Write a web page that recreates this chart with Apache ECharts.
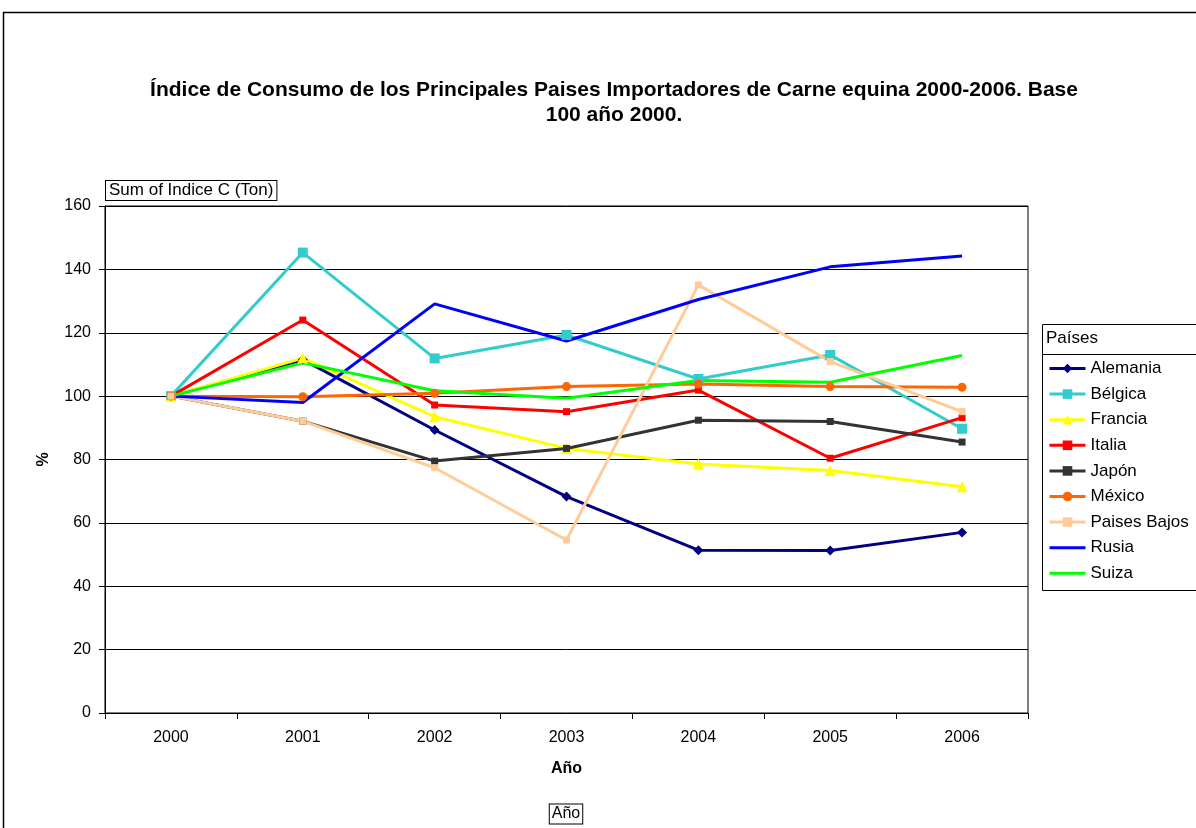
<!DOCTYPE html>
<html>
<head>
<meta charset="utf-8">
<script src="https://cdn.jsdelivr.net/npm/echarts@6/dist/echarts.min.js"></script>
<style>
  html, body { margin: 0; padding: 0; background: #fff; }
  #chart { width: 1196px; height: 828px; }
</style>
</head>
<body>
<div id="chart"></div>
<script>
// Data
const years = ['2000', '2001', '2002', '2003', '2004', '2005', '2006'];
const alemania = [100, 111.5, 89.3, 68.3, 51.4, 51.3, 57.0];
const belgica = [100, 145.3, 111.9, 119.3, 105.4, 113.0, 89.7];
const francia = [100, 112.0, 93.5, 83.5, 78.6, 76.5, 71.4];
const italia = [100, 124.0, 97.2, 95.1, 101.9, 80.4, 93.2];
const japon = [100, 92.1, 79.5, 83.5, 92.4, 92.0, 85.5];
const mexico = [100, 99.8, 100.9, 103.0, 103.8, 103.0, 102.8];
const paisesBajos = [100, 92.1, 77.4, 54.6, 135.1, 110.9, 95.1];
const rusia = [100, 98.0, 129.1, 117.4, 130.5, 140.8, 144.2];
const suiza = [100, 110.5, 101.7, 99.3, 104.9, 104.4, 112.8];

const chart = echarts.init(document.getElementById('chart'));
const font = '"Liberation Sans", Arial, sans-serif';
const lineOnlyIcon = 'path://M0,0 L36,0 L36,3 L0,3 Z';

// helper for one line series
const mk = (name, data, color, symbol, size) => ({
  name,
  type: 'line',
  data,
  symbol,
  symbolSize: size,
  showSymbol: symbol !== 'none',
  lineStyle: { color, width: 3 },
  itemStyle: { color },
  emphasis: { disabled: true },
  animation: false
});

chart.setOption({
  animation: false,
  textStyle: { fontFamily: font },
  title: {
    text: 'Índice de Consumo de los Principales Paises Importadores de Carne equina 2000-2006. Base\n100 año 2000.',
    left: 609,
    top: 73,
    textAlign: 'center',
    textStyle: { fontSize: 21, fontWeight: 'bold', color: '#000', lineHeight: 25, fontFamily: font, align: 'center' }
  },
  legend: {
    orient: 'vertical',
    left: 1048,
    top: 360,
    padding: 0,
    itemWidth: 36,
    itemHeight: 12,
    itemGap: 8.6,
    lineStyle: { width: 3 },
    textStyle: { fontSize: 17, color: '#000', fontFamily: font },
    selectedMode: false,
    data: [
      'Alemania', 'Bélgica', 'Francia', 'Italia', 'Japón', 'México', 'Paises Bajos',
      { name: 'Rusia', icon: lineOnlyIcon },
      { name: 'Suiza', icon: lineOnlyIcon }
    ]
  },
  grid: { left: 105, top: 206, width: 923, height: 507, show: true, borderColor: '#000', borderWidth: 1 },
  xAxis: {
    type: 'category',
    data: years,
    name: 'Año',
    nameLocation: 'middle',
    nameGap: 48,
    nameTextStyle: { fontSize: 16, fontWeight: 'bold', color: '#000' },
    axisLine: { lineStyle: { color: '#000', width: 1 } },
    axisTick: { show: true, length: 6, lineStyle: { color: '#000' } },
    axisLabel: { fontSize: 16, color: '#000', margin: 17 }
  },
  yAxis: {
    type: 'value',
    min: 0,
    max: 160,
    interval: 20,
    name: '%',
    nameLocation: 'middle',
    nameRotate: 90,
    nameGap: 61,
    nameTextStyle: { fontSize: 16, fontWeight: 'bold', color: '#000', verticalAlign: 'middle' },
    axisLine: { show: true, lineStyle: { color: '#000', width: 1 } },
    axisTick: { show: true, length: 6, lineStyle: { color: '#000' } },
    axisLabel: { fontSize: 16, color: '#000', margin: 14 },
    splitLine: { lineStyle: { color: '#000', width: 1 } }
  },
  series: [
    mk('Alemania', alemania, '#000080', 'diamond', 10),
    mk('Bélgica', belgica, '#33CCCC', 'rect', 10),
    mk('Francia', francia, '#FFFF00', 'triangle', 11),
    mk('Italia', italia, '#FF0000', 'rect', 7),
    mk('Japón', japon, '#333333', 'rect', 7),
    mk('México', mexico, '#FF6600', 'circle', 9),
    mk('Paises Bajos', paisesBajos, '#FFCC99', 'rect', 7),
    mk('Rusia', rusia, '#0000FF', 'none', 0),
    mk('Suiza', suiza, '#00FF00', 'none', 0)
  ],
  graphic: [
    // outer chart frame
    { type: 'rect', shape: { x: 3.5, y: 12.5, width: 1200, height: 830 },
      style: { fill: 'none', stroke: '#000', lineWidth: 1.5 }, silent: true, z: -1 },
    // legend frame and header
    { type: 'rect', shape: { x: 1042.5, y: 324.5, width: 170, height: 266 },
      style: { fill: 'none', stroke: '#000', lineWidth: 1 }, silent: true },
    { type: 'line', shape: { x1: 1042.5, y1: 354.5, x2: 1200, y2: 354.5 },
      style: { stroke: '#000', lineWidth: 1 }, silent: true },
    { type: 'text', x: 1046, y: 330,
      style: { text: 'Países', fontSize: 17, fill: '#000', fontFamily: font }, silent: true },
    // field buttons
    { type: 'text', x: 106, y: 181,
      style: { text: 'Sum of Indice C (Ton)', fontSize: 17, fill: '#000', fontFamily: font,
        backgroundColor: '#fff', borderColor: '#000', borderWidth: 1, padding: [1, 3, 1, 3] }, silent: true },
    { type: 'text', x: 566, y: 814,
      style: { text: 'Año', fontSize: 16, fill: '#000', fontFamily: font, align: 'center', verticalAlign: 'middle',
        backgroundColor: '#fff', borderColor: '#000', borderWidth: 1, padding: [2, 2, 1, 2] }, silent: true }
  ]
});
</script>
</body>
</html>
